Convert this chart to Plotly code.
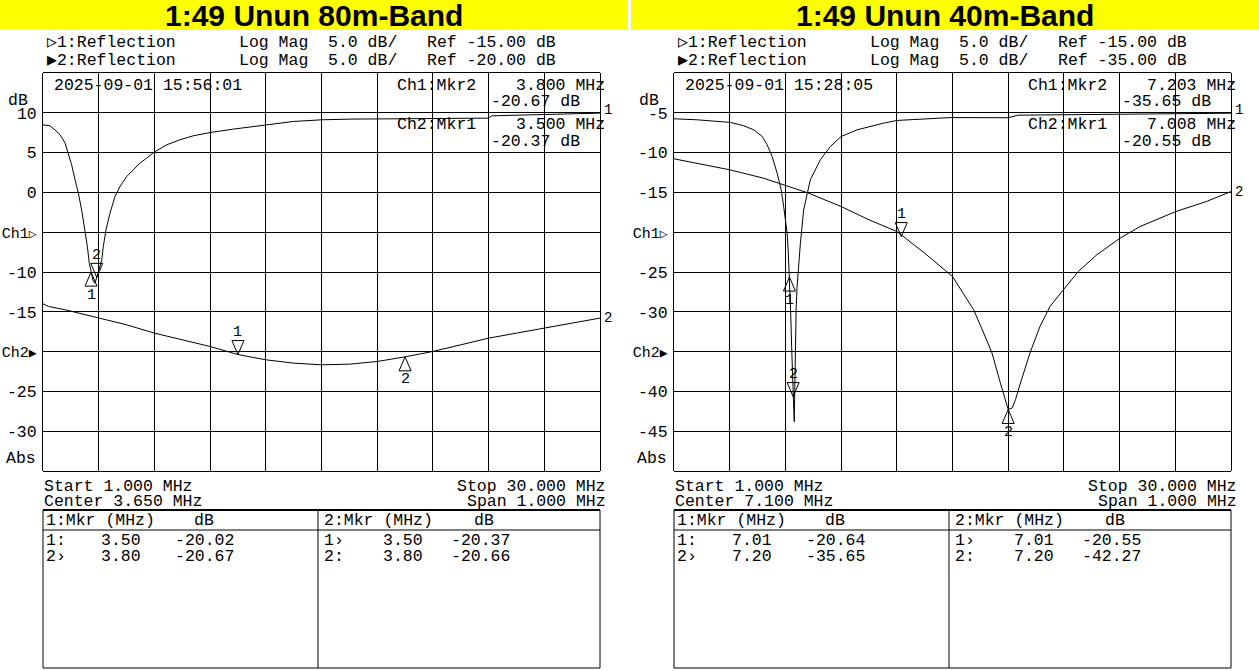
import plotly.graph_objects as go

W, H = 1259, 671
MONO = "Liberation Mono, DejaVu Sans Mono, monospace"
SANS = "Liberation Sans, Arial, sans-serif"

# ---------------- data ----------------
TITLES = ["1:49 Unun 80m-Band", "1:49 Unun 40m-Band"]
DATES = ["2025-09-01 15:56:01", "2025-09-01 15:28:05"]
CH1_REF = [-15.00, -15.00]
CH2_REF = [-20.00, -35.00]
CH1_START, CH1_STOP = 1.000, 30.000
CH2_CENTER = [3.650, 7.100]
CH2_SPAN = 1.000

# left panel, channel 1 (1 - 30 MHz sweep)
L_CH1_F = [1.00, 1.36, 1.62, 1.89, 2.15, 2.32, 2.49, 2.67, 2.84, 3.01, 3.19, 3.31, 3.41,
           3.50, 3.62, 3.71, 3.80, 3.90, 4.06, 4.14, 4.28, 4.49, 4.75, 5.01, 5.36, 5.70,
           6.05, 6.40, 6.79, 7.44, 8.13, 8.82, 9.73, 10.91, 12.61, 14.03, 15.51, 17.07,
           19.59, 22.19, 24.18, 24.36, 26.51, 28.26, 30.00]
L_CH1_DB = [-1.51, -1.63, -2.14, -2.76, -3.81, -5.07, -6.53, -8.42, -10.09, -12.19, -14.70, -16.80, -18.90,
            -20.02, -21.20, -21.40, -20.67, -19.90, -18.47, -16.80, -14.70, -12.60, -10.50, -9.25, -8.00, -7.16,
            -6.32, -5.69, -4.94, -4.02, -3.39, -2.89, -2.47, -2.05, -1.51, -1.09, -0.88, -0.79,
            -0.75, -0.71, -0.67, -0.38, -0.25, -0.17, -0.04]
# left panel, channel 2 (3.15 - 4.15 MHz sweep)
L_CH2_F = [3.15, 3.16, 3.19, 3.25, 3.30, 3.35, 3.40, 3.45, 3.50, 3.55, 3.60, 3.65, 3.70,
           3.75, 3.80, 3.85, 3.90, 3.95, 4.00, 4.05, 4.10, 4.15]
L_CH2_DB = [-14.00, -14.33, -14.75, -15.79, -16.63, -17.68, -18.52, -19.36, -20.37, -21.03, -21.45, -21.66, -21.58,
            -21.24, -20.66, -19.98, -19.15, -18.31, -17.68, -17.05, -16.42, -15.79]
# right panel, channel 1 (1 - 30 MHz sweep)
R_CH1_F = [1.00, 2.21, 3.94, 4.63, 5.15, 5.59, 5.85, 6.11, 6.37, 6.58, 6.71, 6.80, 6.89, 6.95,
           7.01, 7.08, 7.14, 7.203, 7.26, 7.28, 7.32, 7.36, 7.41, 7.50, 7.58, 7.75, 8.10, 8.62,
           9.14, 9.71, 10.53, 11.91, 12.61, 15.38, 18.40, 18.90, 22.00, 26.00, 30.00]
R_CH1_DB = [-0.75, -0.88, -1.21, -1.63, -2.14, -2.97, -4.02, -5.49, -7.58, -9.67, -11.77, -13.44, -15.11, -17.50,
            -20.64, -25.50, -30.50, -35.65, -38.80, -36.00, -28.00, -24.50, -21.80, -18.80, -16.40, -12.20, -8.40, -5.90,
            -4.23, -2.97, -2.14, -1.30, -0.96, -0.60, -0.62, -0.30, -0.25, -0.20, -0.05]
# right panel, channel 2 (6.6 - 7.6 MHz sweep)
R_CH2_F = [6.60, 6.64, 6.70, 6.76, 6.80, 6.84, 6.90, 6.95, 7.00, 7.05, 7.10, 7.138, 7.156,
           7.171, 7.186, 7.19, 7.20, 7.207, 7.213, 7.222, 7.239, 7.257, 7.275, 7.299, 7.326, 7.359,
           7.401, 7.437, 7.501, 7.556, 7.60]
R_CH2_DB = [-10.78, -11.32, -12.16, -13.20, -14.17, -15.05, -16.77, -18.44, -19.91, -22.63, -25.57, -29.75, -32.68,
            -35.19, -38.96, -40.00, -42.27, -42.10, -41.06, -38.96, -35.19, -31.85, -29.33, -27.24, -24.93, -22.84,
            -20.74, -19.28, -17.40, -16.14, -14.89]

# marker tables
L_CH1_MKR_F = [3.50, 3.80]
L_CH1_MKR_DB = [-20.02, -20.67]
L_CH2_MKR_F = [3.50, 3.80]
L_CH2_MKR_DB = [-20.37, -20.66]
R_CH1_MKR_F = [7.01, 7.203]
R_CH1_MKR_DB = [-20.64, -35.65]
R_CH2_MKR_F = [7.008, 7.20]
R_CH2_MKR_DB = [-20.55, -42.27]
CH1_ACTIVE = 1   # marker 2 active on channel 1
CH2_ACTIVE = 0   # marker 1 active on channel 2


def ch_label(name, tri):
    return ('<span style="font-size:15px">' + name + '</span>'
            '<span style="font-size:13px">' + tri + '</span>')


L_Y_TICKS = [10, 5, 0, -5, -10, -15, -20, -25, -30]
L_Y_TEXT = ["10", "5", "0", ch_label("Ch1", "▷"), "-10", "-15", ch_label("Ch2", "▶"), "-25", "-30"]
R_Y_TICKS = [-5, -10, -15, -20, -25, -30, -35, -40, -45]
R_Y_TEXT = ["-5", "-10", "-15", ch_label("Ch1", "▷"), "-25", "-30", ch_label("Ch2", "▶"), "-40", "-45"]
L_Y_RANGE = [-35, 15]
R_Y_RANGE = [-50, 0]
CH1_Y_RANGE = [-45, 5]

# ---------------- figure ----------------
fig = go.Figure()
anns = []
shapes = []


def txt(x, y, s, size=16.5, xa="left", family=MONO):
    anns.append(dict(x=x / W, y=1 - y / H, xref="paper", yref="paper", text=s, showarrow=False,
                     xanchor=xa, yanchor="middle", font=dict(family=family, size=size, color="black")))


def pline(x0, y0, x1, y1, w=1):
    shapes.append(dict(type="line", xref="paper", yref="paper", x0=x0 / W, x1=x1 / W,
                       y0=1 - y0 / H, y1=1 - y1 / H, line=dict(color="black", width=w)))


# each panel: channel-1 subplot (hidden y) and channel-2 subplot (labelled y) share one box
panels = [
    dict(off=0, x1="x", y1="y", x2="x3", y2="y3",
         ch1=(L_CH1_F, L_CH1_DB), ch2=(L_CH2_F, L_CH2_DB),
         m1=(L_CH1_MKR_F, L_CH1_MKR_DB), m2=(L_CH2_MKR_F, L_CH2_MKR_DB),
         yt=L_Y_TICKS, ytx=L_Y_TEXT, yr=L_Y_RANGE),
    dict(off=631, x1="x2", y1="y2", x2="x4", y2="y4",
         ch1=(R_CH1_F, R_CH1_DB), ch2=(R_CH2_F, R_CH2_DB),
         m1=(R_CH1_MKR_F, R_CH1_MKR_DB), m2=(R_CH2_MKR_F, R_CH2_MKR_DB),
         yt=R_Y_TICKS, ytx=R_Y_TEXT, yr=R_Y_RANGE),
]


def axname(a):
    return ("xaxis" if a[0] == "x" else "yaxis") + a[1:]


layout_axes = {}
for i, p in enumerate(panels):
    off = p["off"]
    dom_x = [(43 + off) / W, (600 + off) / W]
    dom_y = [1 - 471 / H, 1 - 73 / H]
    c2lo = CH2_CENTER[i] - CH2_SPAN / 2
    c2hi = CH2_CENTER[i] + CH2_SPAN / 2
    layout_axes[axname(p["x1"])] = dict(domain=dom_x, range=[CH1_START, CH1_STOP], anchor=p["y1"],
                                        tick0=CH1_START, dtick=(CH1_STOP - CH1_START) / 10,
                                        showgrid=True, gridcolor="black", gridwidth=1, zeroline=False,
                                        showline=True, mirror=True, linecolor="black", linewidth=1,
                                        showticklabels=False, ticks="", automargin=False)
    layout_axes[axname(p["y1"])] = dict(domain=dom_y, range=CH1_Y_RANGE, anchor=p["x1"], visible=False,
                                        showgrid=False, zeroline=False, automargin=False)
    layout_axes[axname(p["x2"])] = dict(domain=dom_x, range=[c2lo, c2hi], anchor=p["y2"], visible=False,
                                        showgrid=False, zeroline=False, automargin=False)
    layout_axes[axname(p["y2"])] = dict(domain=dom_y, range=p["yr"], anchor=p["x2"],
                                        tickvals=p["yt"], ticktext=p["ytx"],
                                        showgrid=True, gridcolor="black", gridwidth=1, zeroline=False,
                                        showline=True, mirror=True, linecolor="black", linewidth=1,
                                        ticks="", ticklabelstandoff=2, automargin=False,
                                        tickfont=dict(family=MONO, size=16.5, color="black"))

    # traces
    fig.add_trace(go.Scatter(x=p["ch1"][0], y=p["ch1"][1], xaxis=p["x1"], yaxis=p["y1"], mode="lines",
                             line=dict(color="black", width=1), showlegend=False, hoverinfo="skip"))
    fig.add_trace(go.Scatter(x=p["ch2"][0], y=p["ch2"][1], xaxis=p["x2"], yaxis=p["y2"], mode="lines",
                             line=dict(color="black", width=1), showlegend=False, hoverinfo="skip"))

    # trace end labels
    anns.append(dict(x=p["ch1"][0][-1], y=p["ch1"][1][-1], xref=p["x1"], yref=p["y1"], text="1",
                     showarrow=False, xanchor="left", yanchor="middle", xshift=2, yshift=3,
                     font=dict(family=MONO, size=14, color="black")))
    anns.append(dict(x=p["ch2"][0][-1], y=p["ch2"][1][-1], xref=p["x2"], yref=p["y2"], text="2",
                     showarrow=False, xanchor="left", yanchor="middle", xshift=2, yshift=0,
                     font=dict(family=MONO, size=14, color="black")))

    # markers
    for (mf, mdb), xr, yr, act in ((p["m1"], p["x1"], p["y1"], CH1_ACTIVE),
                                   (p["m2"], p["x2"], p["y2"], CH2_ACTIVE)):
        for k, (f, v) in enumerate(zip(mf, mdb)):
            if k == act:
                path = "M0,0 L-6,14 L6,14 Z"
                ysh = 22
            else:
                path = "M0,0 L-6,-14 L6,-14 Z"
                ysh = -23
            shapes.append(dict(type="path", xref=xr, yref=yr, xsizemode="pixel", ysizemode="pixel",
                               xanchor=f, yanchor=v, path=path,
                               line=dict(color="black", width=1), fillcolor="rgba(0,0,0,0)"))
            anns.append(dict(x=f, y=v, xref=xr, yref=yr, text=str(k + 1), showarrow=False,
                             xanchor="center", yanchor="middle", yshift=ysh,
                             font=dict(family=MONO, size=15, color="black")))

    # yellow title band
    bx0, bx1 = (0, 628) if i == 0 else (631, W)
    shapes.append(dict(type="rect", xref="paper", yref="paper", x0=bx0 / W, x1=bx1 / W,
                       y0=1 - 30 / H, y1=1, fillcolor="#FFFF00", line=dict(width=0), layer="below"))
    anns.append(dict(x=(bx0 + bx1) / 2 / W, y=1 - 16 / H, xref="paper", yref="paper",
                     text="<b>" + TITLES[i] + "</b>", showarrow=False, xanchor="center", yanchor="middle",
                     font=dict(family=SANS, size=30, color="black")))

    # header lines
    txt(45 + off, 42, "▷1:Reflection")
    txt(237 + off, 42, "Log Mag")
    txt(326 + off, 42, "5.0 dB/")
    txt(425 + off, 42, f"Ref {CH1_REF[i]:.2f} dB")
    txt(45 + off, 60, "▶2:Reflection")
    txt(237 + off, 60, "Log Mag")
    txt(326 + off, 60, "5.0 dB/")
    txt(425 + off, 60, f"Ref {CH2_REF[i]:.2f} dB")

    # in-grid readouts
    mf1, md1 = p["m1"]
    mf2, md2 = p["m2"]
    txt(52 + off, 85, DATES[i])
    txt(395 + off, 85, f"Ch1:Mkr{CH1_ACTIVE + 1}")
    txt(607 + off, 85, f"{mf1[CH1_ACTIVE]:.3f} MHz", xa="right")
    txt(489 + off, 101, f"{md1[CH1_ACTIVE]:.2f} dB")
    txt(395 + off, 124, f"Ch2:Mkr{CH2_ACTIVE + 1}")
    txt(607 + off, 124, f"{mf2[CH2_ACTIVE]:.3f} MHz", xa="right")
    txt(489 + off, 142, f"{md2[CH2_ACTIVE]:.2f} dB")

    # axis side labels
    txt(6 + off, 100, "dB")
    txt(4 + off, 458, "Abs")

    # sweep info
    txt(42 + off, 486, f"Start {CH1_START:.3f} MHz")
    txt(608 + off, 486, f"Stop {CH1_STOP:.3f} MHz", xa="right")
    txt(42 + off, 502, f"Center {CH2_CENTER[i]:.3f} MHz")
    txt(608 + off, 502, f"Span {CH2_SPAN:.3f} MHz", xa="right")

    # marker table
    pline(43 + off, 510, 600 + off, 510, w=2)
    pline(43 + off, 668, 600 + off, 668)
    pline(43 + off, 510, 43 + off, 668)
    pline(600 + off, 510, 600 + off, 668)
    pline(318 + off, 510, 318 + off, 668)
    pline(43 + off, 530, 600 + off, 530)
    txt(44 + off, 520, "1:Mkr (MHz)")
    txt(192 + off, 520, "dB")
    txt(322 + off, 520, "2:Mkr (MHz)")
    txt(472 + off, 520, "dB")
    for k in range(2):
        yy = 540 + 16 * k
        lab1 = f"{k + 1}" + ("›" if k == CH1_ACTIVE else ":")
        lab2 = f"{k + 1}" + ("›" if k == CH2_ACTIVE else ":")
        txt(44 + off, yy, lab1)
        txt(99 + off, yy, f"{mf1[k]:.2f}")
        txt(173 + off, yy, f"{md1[k]:.2f}")
        txt(322 + off, yy, lab2)
        txt(381 + off, yy, f"{mf2[k]:.2f}")
        txt(449 + off, yy, f"{md2[k]:.2f}")

fig.update_layout(width=W, height=H, margin=dict(l=0, r=0, t=0, b=0, pad=0, autoexpand=False),
                  paper_bgcolor="white", plot_bgcolor="rgba(0,0,0,0)", showlegend=False,
                  annotations=anns, shapes=shapes, **layout_axes)

fig.write_html("out.html", config={"displayModeBar": False, "staticPlot": True},
               post_script="document.body.style.margin='0';document.body.style.overflow='hidden';")
